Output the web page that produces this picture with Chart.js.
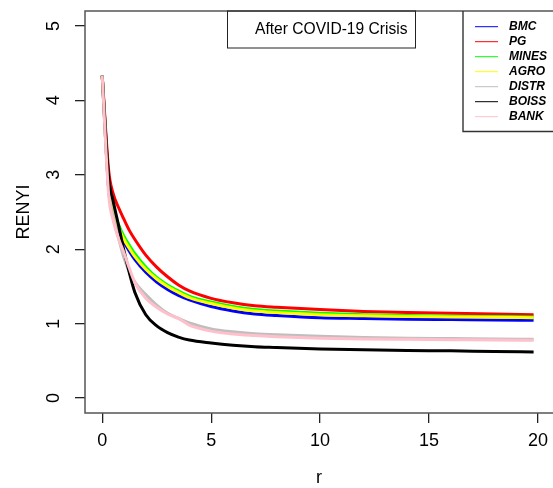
<!DOCTYPE html>
<html>
<head>
<meta charset="utf-8">
<script src="https://cdn.jsdelivr.net/npm/chart.js@4.4.1/dist/chart.umd.min.js"></script>
<style>
html,body{margin:0;padding:0;background:#fff;}
#wrap{width:553px;height:488px;position:relative;}
</style>
</head>
<body>
<div id="wrap"><canvas id="c" width="553" height="488"></canvas></div>
<script>
// ---- data ----
const rValues = [0, 0.3, 0.5, 0.75, 1, 1.25, 1.5, 2, 2.5, 3, 3.5, 4, 5, 6, 7, 8, 10, 12, 14, 16, 18, 19.8];
const BMC   = [4.33, 2.80, 2.48, 2.26, 2.10, 1.97, 1.86, 1.69, 1.56, 1.46, 1.38, 1.32, 1.23, 1.17, 1.13, 1.11, 1.08, 1.07, 1.06, 1.055, 1.05, 1.045];
const PG    = [4.33, 3.05, 2.75, 2.56, 2.40, 2.25, 2.13, 1.92, 1.76, 1.63, 1.52, 1.44, 1.34, 1.28, 1.24, 1.22, 1.19, 1.165, 1.15, 1.14, 1.13, 1.12];
const MINES = [4.33, 2.85, 2.55, 2.33, 2.17, 2.05, 1.94, 1.76, 1.62, 1.52, 1.44, 1.37, 1.29, 1.23, 1.19, 1.17, 1.14, 1.12, 1.11, 1.10, 1.095, 1.09];
const AGRO  = [4.33, 2.82, 2.51, 2.29, 2.13, 2.01, 1.90, 1.73, 1.60, 1.50, 1.42, 1.35, 1.27, 1.21, 1.17, 1.15, 1.12, 1.105, 1.095, 1.09, 1.085, 1.08];
const DISTR = [4.33, 2.78, 2.45, 2.15, 1.88, 1.69, 1.56, 1.39, 1.25, 1.14, 1.07, 1.01, 0.93, 0.89, 0.865, 0.85, 0.83, 0.815, 0.805, 0.80, 0.795, 0.79];
const BOISS = [4.33, 2.95, 2.65, 2.32, 1.98, 1.68, 1.42, 1.12, 0.97, 0.88, 0.82, 0.78, 0.74, 0.71, 0.69, 0.68, 0.66, 0.65, 0.64, 0.635, 0.625, 0.62];
const BANK  = [4.33, 2.72, 2.39, 2.14, 1.95, 1.74, 1.55, 1.34, 1.22, 1.13, 1.07, 0.98, 0.90, 0.86, 0.84, 0.825, 0.805, 0.795, 0.79, 0.785, 0.78, 0.778];
const seriesNames = ['BMC', 'PG', 'MINES', 'AGRO', 'DISTR', 'BOISS', 'BANK'];
const seriesData = [BMC, PG, MINES, AGRO, DISTR, BOISS, BANK];
const seriesColors = ['#0000FF', '#FF0000', '#00FF00', '#FFFF00', '#BEBEBE', '#000000', '#FFC0CB'];
const xTicks = [0, 5, 10, 15, 20];
const yTicks = [0, 1, 2, 3, 4, 5];
const xTitle = 'r';
const yTitle = 'RENYI';
const boxTitle = 'After COVID-19 Crisis';

const FAMILY = '"Liberation Sans", Arial, Helvetica, sans-serif';

const datasets = seriesNames.map((name, i) => ({
  label: name,
  data: rValues.map((r, k) => ({x: r, y: seriesData[i][k]})),
  borderColor: seriesColors[i],
  backgroundColor: seriesColors[i],
  borderWidth: 3,
  pointRadius: 0,
  fill: false,
  cubicInterpolationMode: 'monotone',
  order: seriesNames.length - 1 - i
}));

const rDecor = {
  id: 'rDecor',
  afterDraw(chart) {
    const ctx = chart.ctx;
    const a = chart.chartArea;
    ctx.save();
    // plot frame (right side lies outside the picture)
    ctx.strokeStyle = '#555';
    ctx.lineWidth = 1.5;
    ctx.beginPath();
    ctx.moveTo(chart.width + 2, a.top);
    ctx.lineTo(a.left, a.top);
    ctx.lineTo(a.left, a.bottom);
    ctx.lineTo(chart.width + 2, a.bottom);
    ctx.stroke();

    // title box
    ctx.strokeStyle = '#222';
    ctx.lineWidth = 1;
    ctx.strokeRect(227.5, a.top, 188, 37);
    ctx.fillStyle = '#000';
    ctx.font = '15.6px ' + FAMILY;
    ctx.textAlign = 'left';
    ctx.textBaseline = 'middle';
    ctx.fillText(boxTitle, 255, a.top + 19);

    // legend box
    ctx.strokeStyle = '#333';
    ctx.lineWidth = 1.4;
    ctx.beginPath();
    ctx.moveTo(chart.width + 2, 131.5);
    ctx.lineTo(463, 131.5);
    ctx.lineTo(463, a.top);
    ctx.stroke();
    ctx.font = 'italic bold 12px ' + FAMILY;
    chart.data.datasets.forEach((ds, i) => {
      const y = 26.7 + 15 * i;
      ctx.strokeStyle = ds.borderColor;
      ctx.lineWidth = 1;
      ctx.beginPath();
      ctx.moveTo(475, y);
      ctx.lineTo(498, y);
      ctx.stroke();
      ctx.fillStyle = '#000';
      ctx.fillText(ds.label, 509, y);
    });
    ctx.restore();
  }
};

new Chart(document.getElementById('c'), {
  type: 'line',
  data: {datasets},
  options: {
    responsive: false,
    animation: false,
    devicePixelRatio: 1,
    layout: {padding: {top: 11, right: 0, left: 0, bottom: 0}},
    plugins: {legend: {display: false}, tooltip: {enabled: false}},
    scales: {
      x: {
        type: 'linear',
        min: -0.79,
        max: 20.69,
        afterBuildTicks: s => { s.ticks = xTicks.map(v => ({value: v})); },
        afterFit: s => { s.height = 75; s.paddingLeft = 0; s.paddingRight = 0; },
        ticks: {padding: 7, color: '#000', font: {size: 18, family: FAMILY}, maxRotation: 0},
        grid: {drawOnChartArea: false, drawTicks: true, tickLength: 10, color: '#222', lineWidth: 1.3},
        border: {display: false},
        title: {display: true, text: xTitle, color: '#000', font: {size: 18, family: FAMILY, lineHeight: 1}, padding: {top: 0, bottom: 1}}
      },
      y: {
        type: 'linear',
        min: -0.2,
        max: 5.2,
        afterBuildTicks: s => { s.ticks = yTicks.map(v => ({value: v})); },
        afterFit: s => { s.width = 85; s.paddingTop = 0; s.paddingBottom = 0; },
        ticks: {padding: 16, color: '#000', font: {size: 18, family: FAMILY}, minRotation: 90, maxRotation: 90, crossAlign: 'center'},
        grid: {drawOnChartArea: false, drawTicks: true, tickLength: 10, color: '#222', lineWidth: 1.3},
        border: {display: false},
        title: {display: true, text: yTitle, color: '#000', font: {size: 18, family: FAMILY}, padding: {top: 13, bottom: 0}}
      }
    }
  },
  plugins: [rDecor]
});
</script>
</body>
</html>
